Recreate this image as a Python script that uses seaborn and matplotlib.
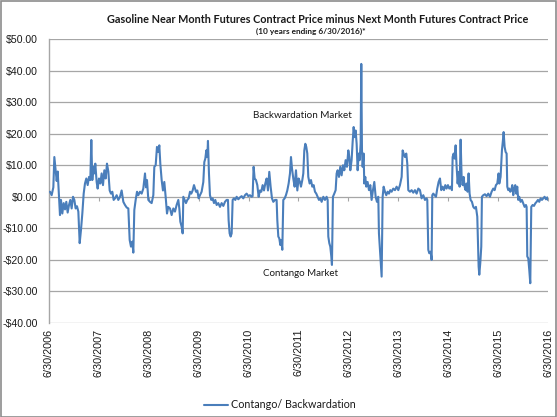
import numpy as np
import pandas as pd
import matplotlib
matplotlib.use("Agg")
import matplotlib.pyplot as plt
import seaborn as sns
from matplotlib.patches import Rectangle

# ---------------- data (decimal years, $ spread) ----------------
date_yr_a = [2006.520, 2006.553, 2006.587, 2006.607, 2006.634, 2006.654, 2006.674, 2006.700, 2006.720, 2006.740,
             2006.767, 2006.794, 2006.821, 2006.847, 2006.874, 2006.901, 2006.927, 2006.954, 2006.981, 2007.008,
             2007.034, 2007.061, 2007.088, 2007.115, 2007.141, 2007.168, 2007.195, 2007.221, 2007.248, 2007.275,
             2007.302, 2007.328, 2007.348, 2007.368, 2007.388, 2007.408, 2007.428, 2007.455, 2007.475, 2007.502,
             2007.529, 2007.555, 2007.582, 2007.609, 2007.636, 2007.662, 2007.689, 2007.716, 2007.742, 2007.769,
             2007.796, 2007.823, 2007.856, 2007.889, 2007.923, 2007.956, 2007.990, 2008.023, 2008.057, 2008.090,
             2008.117, 2008.143, 2008.170, 2008.190, 2008.210, 2008.237, 2008.264, 2008.290, 2008.324, 2008.357,
             2008.390, 2008.424, 2008.444, 2008.464, 2008.491, 2008.524, 2008.557, 2008.591, 2008.611, 2008.638,
             2008.664, 2008.691, 2008.711, 2008.731, 2008.758, 2008.784, 2008.811, 2008.838, 2008.865, 2008.891]
spread_a = [1.6, 0.5, 3.0, 12.6, 8.4, 5.0, 8.0, 0.0, -5.8, -1.0,
            -5.3, -2.0, -4.0, -1.6, -5.0, -2.6, -1.0, -3.7, 0.0, -1.0,
            -3.7, -3.0, -4.7, -14.7, -10.5, -5.3, 1.0, 4.2, 5.8, 3.7,
            6.3, 5.3, 18.0, 5.3, 9.5, 7.4, 10.5, 4.7, 2.6, 5.8,
            4.2, 7.4, 3.7, 8.4, 5.8, 10.5, 8.0, 2.0, 1.0, 1.6,
            -1.0, -0.5, 0.5, -1.0, 0.0, 2.0, -1.6, -2.6, -3.4, -3.7,
            -13.7, -15.8, -14.2, -17.7, -4.2, -1.0, 1.6, 0.5, 1.6, 1.0,
            2.6, 7.4, 3.0, 5.3, -1.0, -1.6, -2.0, 0.5, 9.5, 10.0,
            15.8, 14.2, 16.3, 10.5, 5.3, 2.0, 4.7, 0.0, -5.3, -3.2]

date_yr_b = [2008.925, 2008.958, 2008.992, 2009.025, 2009.058, 2009.092, 2009.112, 2009.132, 2009.159, 2009.179,
             2009.192, 2009.219, 2009.245, 2009.272, 2009.299, 2009.326, 2009.352, 2009.379, 2009.406, 2009.426,
             2009.446, 2009.473, 2009.499, 2009.526, 2009.559, 2009.593, 2009.613, 2009.633, 2009.653, 2009.673,
             2009.686, 2009.706, 2009.726, 2009.753, 2009.780, 2009.807, 2009.833, 2009.860, 2009.893, 2009.927,
             2009.960, 2009.994, 2010.027, 2010.060, 2010.087, 2010.100, 2010.120, 2010.141, 2010.161, 2010.181,
             2010.207, 2010.234, 2010.261, 2010.294, 2010.328, 2010.361, 2010.394, 2010.428, 2010.461, 2010.495,
             2010.528, 2010.561, 2010.581, 2010.601, 2010.622, 2010.648, 2010.675, 2010.702, 2010.728, 2010.755,
             2010.782, 2010.809, 2010.835, 2010.862, 2010.889, 2010.915, 2010.942, 2010.969, 2010.996, 2011.029,
             2011.062, 2011.076, 2011.096, 2011.116, 2011.136, 2011.156, 2011.176, 2011.196, 2011.223, 2011.249,
             2011.276, 2011.303, 2011.330, 2011.350, 2011.370, 2011.396, 2011.423, 2011.450, 2011.477, 2011.503,
             2011.530]
spread_b = [-3.7, -5.8, -3.7, -4.7, -2.6, -1.0, -3.7, -7.9, -9.5, -11.6,
            0.0, -1.0, -2.0, -1.0, -0.5, 1.6, 1.0, 2.0, 3.7, 2.6,
            1.6, 2.0, -0.5, 0.5, 1.6, 4.7, 11.0, 12.1, 14.7, 12.6,
            17.7, 7.4, 0.5, -1.0, -0.5, -2.0, -1.0, -2.6, -2.0, -3.2,
            -2.0, -2.9, -1.6, -1.0, -1.0, -7.4, -11.6, -12.6, -11.6, -1.0,
            -0.5, -1.0, 0.0, -0.8, -0.2, 0.2, -0.5, 0.5, 1.0, 0.2,
            0.5, 0.0, 0.2, 9.5, 5.8, 5.3, 3.7, 0.0, 2.0, 1.6,
            3.7, 2.0, 4.2, 5.8, 2.0, 7.9, 3.2, -0.5, -1.6, -1.0,
            -1.0, -7.4, -12.6, -13.2, -15.3, -13.7, -16.8, -1.0, -0.5, 0.5,
            2.0, 4.2, 7.4, 12.6, 9.0, 5.8, 3.2, 8.4, 2.0, 5.8,
            4.7]

date_yr_c = [2011.550, 2011.577, 2011.597, 2011.617, 2011.637, 2011.657, 2011.677, 2011.697, 2011.724, 2011.751,
             2011.777, 2011.804, 2011.831, 2011.857, 2011.884, 2011.911, 2011.938, 2011.964, 2011.998, 2012.031,
             2012.064, 2012.085, 2012.098, 2012.118, 2012.138, 2012.158, 2012.171, 2012.191, 2012.218, 2012.245,
             2012.265, 2012.285, 2012.312, 2012.338, 2012.365, 2012.392, 2012.419, 2012.445, 2012.472, 2012.499,
             2012.519, 2012.539, 2012.565, 2012.586, 2012.606, 2012.626, 2012.646, 2012.666, 2012.686, 2012.706,
             2012.726, 2012.746, 2012.759, 2012.773, 2012.786, 2012.806, 2012.819, 2012.839, 2012.859, 2012.886,
             2012.913, 2012.940, 2012.966, 2012.993, 2013.020, 2013.047, 2013.073, 2013.100, 2013.113, 2013.133,
             2013.153, 2013.167, 2013.187, 2013.207, 2013.234, 2013.260, 2013.287, 2013.314, 2013.340, 2013.367,
             2013.400, 2013.434, 2013.467, 2013.501, 2013.534, 2013.568, 2013.588, 2013.608, 2013.634, 2013.661,
             2013.681, 2013.701, 2013.735, 2013.768, 2013.801, 2013.835, 2013.868, 2013.902]
spread_c = [3.2, 5.3, 7.4, 14.7, 16.8, 15.8, 13.7, 6.3, 4.2, 5.3,
            3.2, 3.7, 1.6, 1.0, 0.0, -1.0, -0.5, -1.6, 0.0, -1.0,
            0.0, -1.0, -12.6, -14.7, -15.8, -18.9, -21.6, 0.0, 1.0, 2.1,
            7.4, 8.4, 6.3, 9.5, 6.8, 10.0, 8.4, 11.6, 9.5, 14.7,
            12.6, 8.4, 11.6, 17.4, 22.1, 18.9, 21.0, 16.8, 8.4, 13.7,
            11.6, 16.8, 42.1, 14.7, 9.5, 13.7, 4.2, 6.3, 3.2, 4.7,
            2.1, 3.7, -1.0, 2.1, 4.7, 0.0, -1.6, 0.0, -11.6, -16.8,
            -22.1, -25.3, 0.0, 3.2, 1.6, 0.5, 1.6, 1.0, 2.1, 1.6,
            2.6, 2.1, 3.2, 2.1, 3.7, 6.3, 14.7, 13.7, 12.6, 13.7,
            10.5, 2.1, 1.6, 2.1, 1.3, 2.1, 1.0, 2.6]

date_yr_d = [2013.935, 2013.968, 2014.002, 2014.035, 2014.069, 2014.082, 2014.102, 2014.122, 2014.149, 2014.169,
             2014.182, 2014.202, 2014.229, 2014.256, 2014.282, 2014.309, 2014.336, 2014.362, 2014.389, 2014.416,
             2014.443, 2014.469, 2014.496, 2014.523, 2014.549, 2014.576, 2014.590, 2014.610, 2014.630, 2014.650,
             2014.670, 2014.690, 2014.710, 2014.730, 2014.750, 2014.770, 2014.790, 2014.810, 2014.830, 2014.850,
             2014.870, 2014.890, 2014.910, 2014.930, 2014.950, 2014.977, 2015.004, 2015.030, 2015.057, 2015.084,
             2015.097, 2015.111, 2015.124, 2015.144, 2015.164, 2015.177, 2015.204, 2015.237, 2015.271, 2015.304,
             2015.338, 2015.371, 2015.404, 2015.431, 2015.458, 2015.485, 2015.511, 2015.525, 2015.551, 2015.578,
             2015.598, 2015.612, 2015.632, 2015.652, 2015.672, 2015.685, 2015.705, 2015.725, 2015.745, 2015.765,
             2015.785, 2015.805, 2015.825, 2015.845, 2015.865, 2015.885, 2015.905, 2015.925, 2015.952, 2015.979,
             2016.006, 2016.032, 2016.059, 2016.073, 2016.086, 2016.106, 2016.126, 2016.146, 2016.166, 2016.193,
             2016.220, 2016.246, 2016.273, 2016.300, 2016.326, 2016.353, 2016.380, 2016.406, 2016.433, 2016.460,
             2016.487, 2016.500]
spread_d = [2.1, -0.5, 0.5, -1.0, -0.5, -1.0, -16.8, -17.9, -17.4, -20.0,
            0.5, 1.0, 0.5, 0.0, 2.6, 4.7, 5.8, 2.1, 3.2, 2.1,
            3.7, 2.6, 3.7, 2.6, 3.2, 2.1, 12.6, 13.7, 12.1, 16.3,
            9.5, 4.2, 7.9, 3.2, 18.1, 6.3, 3.7, 6.3, 3.2, 2.1,
            4.2, 1.6, 7.4, 1.0, -1.0, -1.6, -3.2, -3.7, -3.2, -6.3,
            -13.7, -22.1, -24.7, -21.0, -15.8, 0.0, 0.5, 0.8, 0.2, 1.0,
            0.0, 1.6, 2.6, 2.1, 3.7, 4.2, 7.4, 4.2, 6.3, 14.7,
            17.9, 20.5, 15.8, 14.2, 13.7, 3.2, 2.1, 2.6, 1.6, 2.1,
            3.7, 0.5, 2.6, 3.7, 1.0, 3.2, -1.0, 0.0, -1.6, -1.0,
            -2.1, -3.2, -2.6, -3.2, -18.9, -19.5, -23.2, -27.4, -3.2, -2.6,
            -2.9, -2.1, -1.6, -1.0, -1.6, -0.5, -1.0, -0.5, 0.0, -0.8,
            -0.2, -1.0]

series_name = "Contango/ Backwardation"
tick_dates = ["2006-06-30", "2007-06-30", "2008-06-30", "2009-06-30", "2010-06-30", "2011-06-30",
              "2012-06-30", "2013-06-30", "2014-06-30", "2015-06-30", "2016-06-30"]
tick_labels = ["6/30/2006", "6/30/2007", "6/30/2008", "6/30/2009", "6/30/2010", "6/30/2011",
               "6/30/2012", "6/30/2013", "6/30/2014", "6/30/2015", "6/30/2016"]
y_ticks = [50, 40, 30, 20, 10, 0, -10, -20, -30, -40]
y_labels = ["$50.00", "$40.00", "$30.00", "$20.00", "$10.00", "$0.00",
            "-$10.00", "-$20.00", "-$30.00", "-$40.00"]
title = "Gasoline Near Month Futures Contract Price minus Next Month Futures Contract Price"
subtitle = "(10 years ending 6/30/2016)*"
note_back = "Backwardation Market"
note_cont = "Contango Market"

# ---------------- build frame ----------------
yrs = np.array(date_yr_a + date_yr_b + date_yr_c + date_yr_d)
vals = np.array(spread_a + spread_b + spread_c + spread_d)
origin = pd.Timestamp("2006-06-30")
dates = origin + pd.to_timedelta((yrs - 2006.5) * 365.25, unit="D")
df = pd.DataFrame({"date": dates, "spread": vals})

sns.set_theme(style="white")
plt.rcParams["font.family"] = ["Liberation Sans", "DejaVu Sans"]
CAL = ["Lato", "DejaVu Sans"]

W, H = 557, 417
fig = plt.figure(figsize=(W / 100, H / 100), dpi=100)
ax = fig.add_axes([49 / W, 1 - 323 / H, 499 / W, 284 / H])

sns.lineplot(data=df, x="date", y="spread", ax=ax, color="#4A7EBB", linewidth=1.5,
             estimator=None, label=series_name, zorder=3)

xt = pd.to_datetime(tick_dates)
ax.set_xlim(xt[0], xt[-1])
ax.set_ylim(-40, 50)
ax.set_yticks(y_ticks)
ax.set_yticklabels(y_labels)
ax.set_xticks(xt)
ax.set_xticklabels(tick_labels, rotation=90)
ax.tick_params(axis="y", length=0, pad=8.2, labelsize=7.6, labelcolor="#1a1a1a")
ax.tick_params(axis="x", length=0, pad=4, labelsize=7.8, labelcolor="#1a1a1a")
ax.set_xlabel("")
ax.set_ylabel("")
ax.grid(axis="y", color="#a6a6a6", linewidth=0.9)
ax.grid(axis="x", visible=False)
for s in ["top", "right", "bottom"]:
    ax.spines[s].set_visible(False)
ax.spines["left"].set_color("#a6a6a6")
ax.spines["left"].set_linewidth(1.0)

# small tick marks on the zero line
sec = ax.secondary_xaxis(40 / 90)
sec.set_xticks(xt)
sec.tick_params(axis="x", which="both", top=False, bottom=True, labelbottom=False,
                labeltop=False, length=3, color="#a6a6a6", width=0.8)
for s in sec.spines.values():
    s.set_visible(False)

# annotations
t_back = ax.text(0.507, 0.729, note_back, transform=ax.transAxes, ha="center", va="center",
                 fontsize=7.2, family=CAL, color="#1a1a1a")
t_cont = ax.text(0.505, 0.176, note_cont, transform=ax.transAxes, ha="center", va="center",
                 fontsize=7.1, family=CAL, color="#1a1a1a")

# titles
t_title = fig.text(317.5 / W, 1 - 19.5 / H, title, ha="center", va="center", fontsize=8.35,
                   fontweight="bold", family=CAL, color="#1a1a1a")
t_sub = fig.text(311 / W, 1 - 31.5 / H, subtitle, ha="center", va="center", fontsize=6.3,
                 fontweight="bold", family=CAL, color="#1a1a1a")

# legend
leg = ax.legend(loc="center", bbox_to_anchor=(280 / W, 1 - 405 / H), bbox_transform=fig.transFigure,
                frameon=False, handlelength=2.1, handletextpad=0.3,
                prop={"family": CAL, "size": 7.9})
for t in leg.get_texts():
    t.set_color("#1a1a1a")

# fit text widths to the reference's measured widths (pixels)
fig.canvas.draw()
r = fig.canvas.get_renderer()
for txt, target in [(t_title, 423), (t_sub, 110), (t_back, 100), (t_cont, 76), (leg.get_texts()[0], 125)]:
    w = txt.get_window_extent(r).width
    if w > 0:
        txt.set_fontsize(txt.get_fontsize() * target / w)

# chart border
fig.patches.append(Rectangle((0.001, 0.001), 0.997, 0.997, transform=fig.transFigure,
                             fill=False, edgecolor="#8c8c8c", linewidth=1.2))

fig.savefig("out.png", dpi=100)
